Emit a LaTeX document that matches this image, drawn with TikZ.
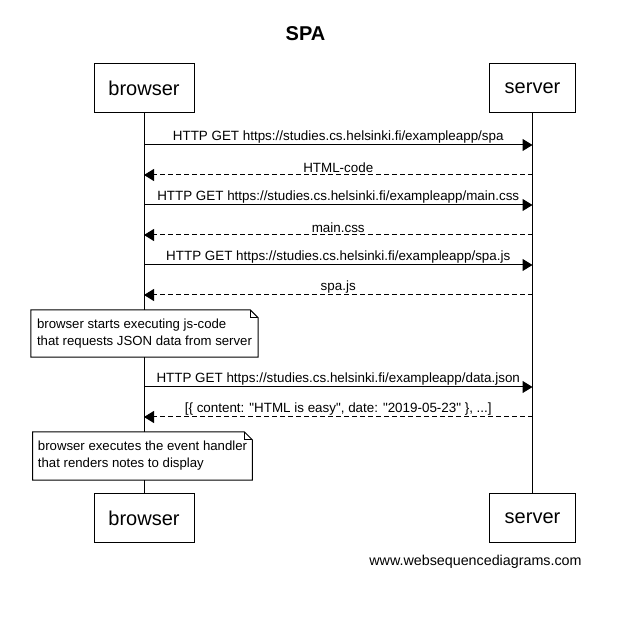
\documentclass[tikz,border=0pt]{standalone}
\usepackage{fontspec}
\setmainfont{Liberation Sans}
\usetikzlibrary{positioning,arrows.meta}

\begin{document}
\begin{tikzpicture}[
        x=1pt, y=-1pt,
        actor/.style={
            rectangle, draw = black, fill = white, line width = 1pt,
            minimum height = 49pt, font = \fontsize{20}{24}\selectfont
        },
        lifeline/.style={
            line width = 1pt
        },
        msg/.style={
            line width = 1pt, -{Triangle[length=10pt,width=12pt]}
        },
        reply/.style={
            msg, dash pattern = on 5pt off 3pt
        },
        lbl/.style={
            above, inner sep = 1.5pt, font = \fontsize{13.4}{15}\selectfont
        },
        note/.style={
            rectangle, fill = white, align = left, inner xsep = 5pt,
            font = \fontsize{13.2}{17}\selectfont
        },
    ]
    \useasboundingbox (0,0) rectangle (622,617);

    \node (title) at (305.5,34) {\fontsize{20}{24}\selectfont\bfseries SPA};

    \node (browser) [actor, minimum width = 100pt] at (144,88.5) {browser};
    \node (server) [actor, minimum width = 86pt] at (532.5,88.5) {server};
    \node (browserB) [actor, minimum width = 100pt] at (144,518.5) {browser};
    \node (serverB) [actor, minimum width = 86pt] at (532.5,518.5) {server};

    \draw[lifeline] (browser) -- (browserB);
    \draw[lifeline] (server) -- (serverB);

    % first the page itself
    \coordinate (b1) at (browser |- 0,145);
    \coordinate (s1) at (server |- 0,145);
    \draw[msg] (b1) -- node[lbl] {HTTP GET https://studies.cs.helsinki.fi/exampleapp/spa} (s1);

    \coordinate (b2) at (browser |- 0,175);
    \coordinate (s2) at (server |- 0,175);
    \draw[reply] (s2) -- node[lbl] {HTML-code} (b2);

    \coordinate (b3) at (browser |- 0,205);
    \coordinate (s3) at (server |- 0,205);
    \draw[msg] (b3) -- node[lbl] {HTTP GET https://studies.cs.helsinki.fi/exampleapp/main.css} (s3);

    \coordinate (b4) at (browser |- 0,235);
    \coordinate (s4) at (server |- 0,235);
    \draw[reply] (s4) -- node[lbl] {main.css} (b4);

    \coordinate (b5) at (browser |- 0,265);
    \coordinate (s5) at (server |- 0,265);
    \draw[msg] (b5) -- node[lbl] {HTTP GET https://studies.cs.helsinki.fi/exampleapp/spa.js} (s5);

    \coordinate (b6) at (browser |- 0,295);
    \coordinate (s6) at (server |- 0,295);
    \draw[reply] (s6) -- node[lbl] {spa.js} (b6);

    \node (runJs) [note, minimum width = 227pt, minimum height = 47pt] at (144.5,333.5) {
        browser starts executing js-code \\
        that requests JSON data from server
    };
    \draw[line width = 1pt] (runJs.south west) -- (runJs.north west) -- ([xshift=-8pt]runJs.north east)
        -- ([yshift=-8pt]runJs.north east) -- (runJs.south east) -- cycle;
    \draw[line width = 0.6pt] ([xshift=-8pt]runJs.north east) |- ([yshift=-8pt]runJs.north east);

    % then the data
    \coordinate (b7) at (browser |- 0,387);
    \coordinate (s7) at (server |- 0,387);
    \draw[msg] (b7) -- node[lbl] {HTTP GET https://studies.cs.helsinki.fi/exampleapp/data.json} (s7);

    \coordinate (b8) at (browser |- 0,417);
    \coordinate (s8) at (server |- 0,417);
    \draw[reply] (s8) -- node[lbl] {[\{ content: \textquotedbl HTML is easy\textquotedbl, date: \textquotedbl 2019-05-23\textquotedbl\ \}, ...]} (b8);

    \node (render) [note, minimum width = 217pt, minimum height = 48pt] at (142.5,456) {
        browser executes the event handler \\
        that renders notes to display
    };
    \draw[line width = 1pt] (render.south west) -- (render.north west) -- ([xshift=-8pt]render.north east)
        -- ([yshift=-8pt]render.north east) -- (render.south east) -- cycle;
    \draw[line width = 0.6pt] ([xshift=-8pt]render.north east) |- ([yshift=-8pt]render.north east);

    \node (footer) at (475.5,562) {\fontsize{14.3}{17}\selectfont www.websequencediagrams.com};

\end{tikzpicture}
\end{document}
